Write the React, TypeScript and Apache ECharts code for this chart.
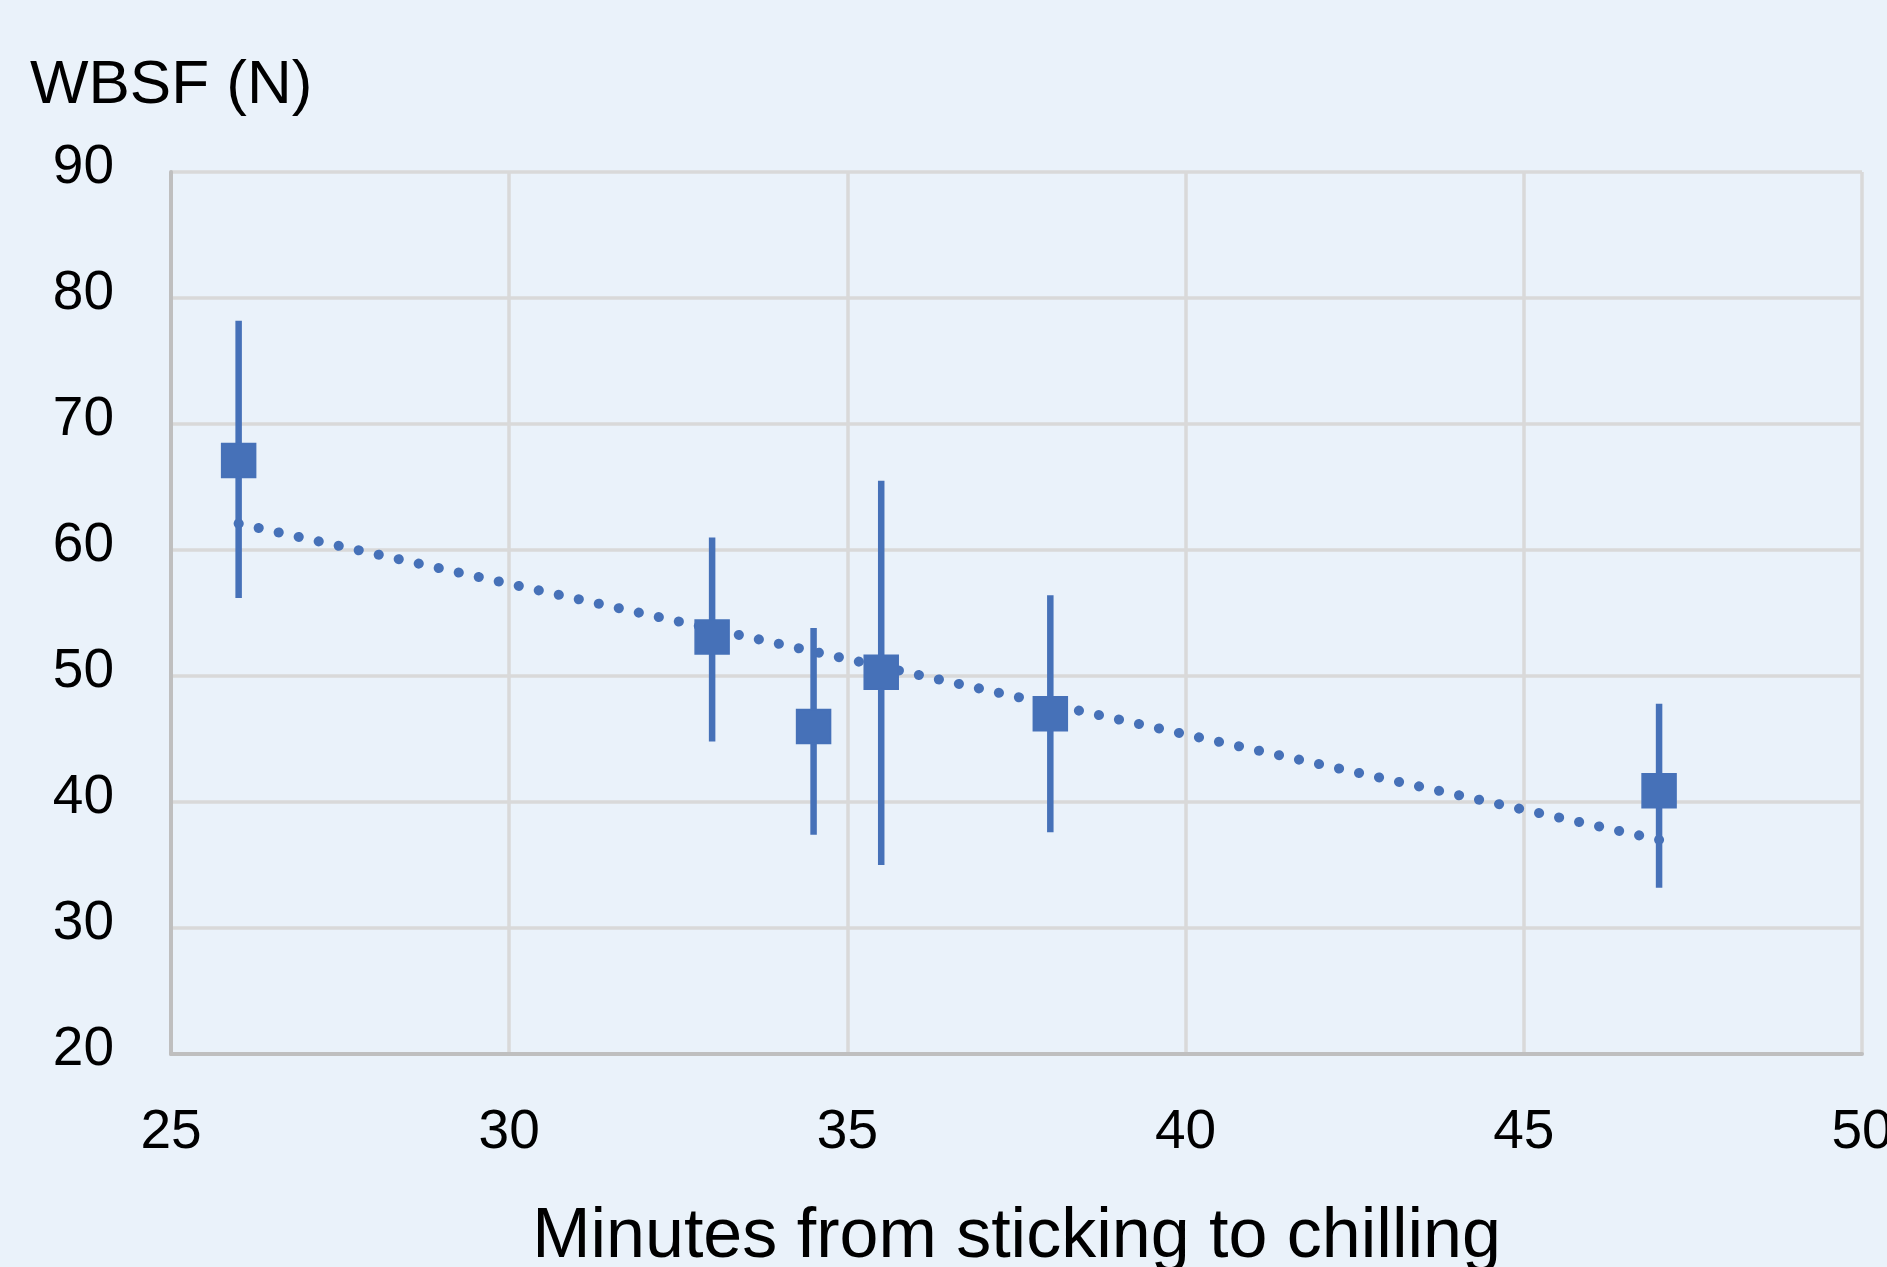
import React, { useEffect, useRef } from "react";
import * as echarts from "echarts";

const minutes = [26, 33, 34.5, 35.5, 38, 47];
const wbsfMean = [67.1, 53.1, 46, 50.3, 47, 40.9];
const wbsfLow = [56.2, 44.8, 37.4, 35.0, 37.6, 33.2];
const wbsfHigh = [78.2, 61.0, 53.8, 65.5, 56.4, 47.8];
const trendX = [26, 47];
const trendY = [62.1, 37.0];

const yTitle = "WBSF (N)";
const xTitle = "Minutes from sticking to chilling";

const BLUE = "#4671B8";
const BG = "#EAF2FA";
const GRID = "#D9D9D9";
const AXIS = "#BFBFBF";
const FONT = "'Liberation Sans', Arial, sans-serif";

export default function App() {
  const ref = useRef<HTMLDivElement>(null);
  useEffect(() => {
    document.body.style.margin = "0";
    const chart = echarts.init(ref.current!, null, { renderer: "svg" });
    const means = minutes.map((m, i) => [m, wbsfMean[i]]);
    const bars = minutes.map((m, i) => [m, wbsfLow[i], wbsfHigh[i]]);
    const trend = trendX.map((x, i) => [x, trendY[i]]);
    chart.setOption({
      animation: false,
      backgroundColor: BG,
      textStyle: { fontFamily: FONT },
      grid: {
        left: 171,
        right: 25,
        top: 172,
        bottom: 213,
        containLabel: false,
        outerBoundsMode: "none",
      },
      graphic: [
        {
          type: "text",
          left: 30,
          top: 50,
          style: { text: yTitle, fontSize: 62, fontFamily: FONT, fill: "#000" },
        },
      ],
      xAxis: {
        type: "value",
        min: 25,
        max: 50,
        interval: 5,
        name: xTitle,
        nameLocation: "middle",
        nameGap: 144,
        nameTextStyle: { fontSize: 70, color: "#000", fontFamily: FONT },
        axisLine: { show: true, onZero: false, lineStyle: { color: AXIS, width: 4 } },
        axisTick: { show: false },
        axisLabel: { fontSize: 55, color: "#000", margin: 47, fontFamily: FONT },
        splitLine: { show: true, lineStyle: { color: GRID, width: 3.5 } },
      },
      yAxis: {
        type: "value",
        min: 20,
        max: 90,
        interval: 10,
        axisLine: { show: true, onZero: false, lineStyle: { color: AXIS, width: 4 } },
        axisTick: { show: false },
        axisLabel: {
          fontSize: 55,
          color: "#000",
          margin: 57,
          fontFamily: FONT,
          verticalAlign: "bottom",
          lineHeight: 16,
        },
        splitLine: { show: true, lineStyle: { color: GRID, width: 3.5 } },
      },
      series: [
        {
          type: "line",
          data: trend,
          symbol: "none",
          z: 2,
          lineStyle: { color: BLUE, width: 10, type: [0.1, 20.396], cap: "round" },
        },
        {
          type: "custom",
          data: bars,
          z: 3,
          encode: { x: 0, y: [1, 2] },
          renderItem: (params: any, api: any) => {
            const x = api.value(0);
            const p1 = api.coord([x, api.value(1)]);
            const p2 = api.coord([x, api.value(2)]);
            return {
              type: "line",
              shape: { x1: p1[0], y1: p1[1], x2: p2[0], y2: p2[1] },
              style: { stroke: BLUE, lineWidth: 6.5 },
            };
          },
        },
        {
          type: "scatter",
          data: means,
          symbol: "rect",
          symbolSize: 34,
          z: 4,
          itemStyle: { color: BLUE, opacity: 1, borderColor: BLUE, borderWidth: 1.5 },
        },
      ],
    });
    return () => chart.dispose();
  }, []);
  return <div ref={ref} style={{ width: 1887, height: 1267 }} />;
}
